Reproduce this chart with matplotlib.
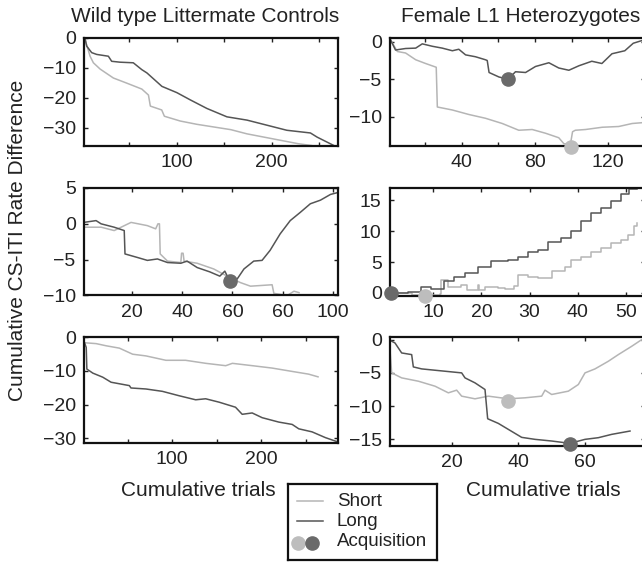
import matplotlib
matplotlib.use("Agg")
import matplotlib.pyplot as plt

plt.rcParams['font.family'] = ['Liberation Sans', 'DejaVu Sans']

# colours of the two trial types
light = '#b5b5b5'
dark = '#555555'
light_dot = '#bdbdbd'
dark_dot = '#6a6a6a'

# ---- Wild type, row 1 ----
wt_a_short_x = [3, 8.4, 11.9, 19, 33, 47, 63, 70, 72, 84, 86.8, 103.5, 121, 139, 157, 174, 192, 210, 228, 242]
wt_a_short_y = [-0.4, -6.1, -8.3, -10.4, -13.4, -15.1, -17.1, -19.1, -22.8, -24.1, -26.2, -27.8, -28.9, -29.8, -30.7, -32.1, -33.2, -34.3, -35.4, -36]
wt_a_long_x = [3, 4.8, 10.1, 15.4, 27.7, 31.2, 40, 54, 63, 68.4, 84.2, 100, 114, 131.7, 152.8, 174, 195, 216, 240.9, 248, 265.6]
wt_a_long_y = [0, -2.7, -4.9, -5.5, -6.1, -7.8, -8.1, -8.3, -10.6, -11.7, -16.2, -18.3, -20.7, -23.6, -26.4, -27.5, -29.2, -30.9, -31.8, -33.2, -36]

# ---- Female L1 heterozygotes, row 1 ----
het_a_short_x = [1.3, 5, 9.5, 15, 20.4, 26.2, 26.8, 35, 44, 53, 62.2, 71.2, 78.5, 85.8, 93, 95.8, 99.4, 100.5, 102, 107.6, 116.7, 125.7, 133, 138]
het_a_short_y = [0.25, -1.3, -1.5, -2.4, -2.9, -3.4, -8.7, -9.1, -9.7, -10.2, -10.9, -11.8, -11.7, -12.2, -12.8, -13.6, -13.6, -12.0, -11.8, -11.7, -11.4, -11.3, -10.9, -10.8]
het_a_long_x = [1.3, 4, 9.5, 15, 18.6, 24, 29.5, 35, 38.5, 42.2, 47.6, 53, 54, 55, 60.4, 65.4, 69.4, 74.9, 80.3, 87.6, 93, 98.5, 104, 111, 116.5, 122, 129, 133.6, 138.2]
het_a_long_y = [0.25, -1.1, -0.9, -0.85, -0.28, -0.6, -0.85, -1.2, -1.0, -1.75, -2.0, -2.4, -2.5, -4.1, -4.7, -5.0, -4.0, -4.1, -3.3, -2.8, -3.5, -3.8, -3.2, -2.6, -2.9, -1.6, -1.2, -0.2, 0.15]
het_a_acq_short = (99.4, -14.0)
het_a_acq_long = (65.4, -5.0)

# ---- Wild type, row 2 ----
wt_b_short_x = [1.3, 7.8, 13, 19.7, 26.2, 29.5, 30.4, 31.0, 31.3, 34.2, 39.5, 39.8, 40.4, 40.8, 46, 52.6, 57.9, 63.2, 67.2, 75.8, 76.5, 81.8, 84.5, 86.5]
wt_b_short_y = [-0.47, -0.47, -0.94, 0.2, -0.25, -0.7, 0.0, 0.0, -4.2, -5.2, -5.4, -4.1, -4.1, -5.2, -5.5, -6.3, -7.3, -8.2, -8.7, -8.5, -9.7, -10, -9.4, -9.6]
wt_b_long_x = [1.3, 5.8, 7.8, 13, 17, 17.3, 22.3, 26.2, 30.2, 34.2, 39.5, 42, 46, 51, 55, 57, 58.9, 61.9, 64.6, 68.5, 71.8, 75, 79, 83, 87, 91, 95, 99, 102.3]
wt_b_long_y = [0.22, 0.45, 0.0, -0.47, -0.94, -4.2, -4.7, -5.1, -4.9, -5.4, -5.5, -5.2, -6.1, -6.7, -7.3, -6.6, -7.95, -7.7, -6.3, -5.2, -5.1, -3.7, -1.4, 0.45, 1.6, 2.8, 3.3, 4.1, 4.4]
wt_b_acq_long = (58.9, -7.95)

# ---- Female L1 heterozygotes, row 2 ----
het_b_short_x = [1, 5.5, 8.3, 11.3, 11.6, 13, 15.8, 17.1, 19.3, 19.5, 20.7, 23.4, 24.8, 26.8, 27.6, 29.7, 31.7, 33.8, 34.6, 37.3, 38.6, 40.7, 42.8, 44.9, 46.9, 49, 50.4, 51.7, 52.4]
het_b_short_y = [0, -0.33, -0.4, -0.16, 2.1, 1.0, 1.3, 0.49, 1.3, 0.5, 1.0, 0.76, 0.6, 1.14, 2.9, 2.6, 2.4, 2.4, 3.6, 4.2, 5.4, 5.9, 6.7, 7.3, 8.1, 8.6, 9.4, 10.8, 11.3]
het_b_long_x = [1.3, 4.8, 7.5, 9.6, 11.3, 12.3, 14.4, 16.5, 19.3, 22, 25.5, 27.6, 29.7, 31.7, 33.8, 36.6, 38.6, 40.7, 42.8, 44.9, 46.9, 49, 50.7, 52.4]
het_b_long_y = [0.0, 0.22, 0.9, 0.7, 0.7, 1.85, 2.55, 3.3, 4.2, 5.1, 5.4, 5.9, 6.7, 7.0, 8.3, 8.9, 9.97, 11.6, 12.97, 13.8, 14.9, 15.96, 16.8, 16.9]
het_b_acq_short = (8.3, -0.45)
het_b_acq_long = (1.3, 0.0)

# ---- Wild type, row 3 ----
wt_c_short_x = [1.6, 14.6, 25.8, 40.7, 55.6, 70.5, 92.9, 115, 137.7, 160, 167.5, 190, 212, 234.6, 253, 263.6]
wt_c_short_y = [-1.7, -1.96, -2.6, -3.3, -5.1, -5.6, -6.9, -6.9, -7.8, -8.5, -7.8, -8.5, -9.2, -10.2, -11, -11.8]
wt_c_long_x = [1.6, 3.5, 4.2, 10.9, 22, 31.4, 51.9, 53.7, 70.5, 89, 107.7, 126.3, 137.5, 152.5, 171, 178.5, 189.7, 200.9, 219.5, 234.6, 242, 256.9, 271.8, 286]
wt_c_long_y = [-1.7, -3.1, -9.5, -10.7, -11.9, -13.4, -14.4, -15.1, -15.4, -16.1, -17.4, -18.6, -18.3, -19.3, -20.8, -22.9, -22.5, -23.9, -25.2, -25.9, -27.2, -28.1, -29.8, -31.1]

# ---- Female L1 heterozygotes, row 3 ----
het_c_short_x = [1.5, 2, 5, 10, 15, 19, 21.5, 23, 27, 31, 37, 42, 47, 48, 50, 55, 58, 60, 63, 67, 70, 74, 77]
het_c_short_y = [-1.5, -5, -5.75, -6.25, -7, -8, -7.6, -8.5, -8.9, -8.5, -8.9, -8.75, -8.5, -7.6, -8.25, -7.75, -6.75, -5, -4.4, -3.25, -2.25, -1, 0]
het_c_long_x = [1.5, 3, 5, 8, 8.5, 11, 15, 18, 23, 24, 27, 30, 30.8, 34, 37, 41, 45, 50, 55.5, 60, 64, 68, 73.5]
het_c_long_y = [-0.1, -0.5, -2, -2.25, -4.1, -4.4, -4.6, -4.75, -5, -5.75, -6.5, -7.5, -11.9, -12.6, -13.5, -14.7, -15, -15.25, -15.6, -15, -14.75, -14.25, -13.75]
het_c_acq_short = (37, -9.25)
het_c_acq_long = (55.5, -15.75)

W, H = 642, 562
fig = plt.figure(figsize=(W / 100, H / 100), dpi=100)


def px_axes(l, t, r, b):
    return fig.add_axes([l / W, 1 - b / H, (r - l) / W, (b - t) / H])


def style(ax, xlim, ylim, xticks, xlabels, yticks):
    ax.set_xlim(*xlim)
    ax.set_ylim(*ylim)
    ax.set_xticks(xticks)
    ax.set_xticklabels(xlabels)
    ax.set_yticks(yticks)
    ax.tick_params(direction='in', length=3, width=1, top=True, right=True,
                   labelsize=14, colors='#222222')
    ax.tick_params(axis='x', pad=6)
    ax.tick_params(axis='y', pad=6)
    for s in ax.spines.values():
        s.set_linewidth(1.6)
        s.set_color('#111111')


def curves(ax, sx, sy, lx, ly, steps=False):
    ds = 'steps-post' if steps else 'default'
    ax.plot(sx, sy, color=light, lw=1.1, drawstyle=ds)
    ax.plot(lx, ly, color=dark, lw=1.1, drawstyle=ds)


def dot(ax, pt, c):
    ax.plot(pt[0], pt[1], 'o', ms=9.5, color=c, mec=c, clip_on=False, zorder=5)


# row 1
ax = px_axes(84, 38, 338, 145.5)
curves(ax, wt_a_short_x, wt_a_short_y, wt_a_long_x, wt_a_long_y)
style(ax, (2, 270), (-36, 0), [50, 100, 150, 200, 250], ['', '100', '', '200', ''], [0, -10, -20, -30])

ax = px_axes(390, 38, 645, 146)
curves(ax, het_a_short_x, het_a_short_y, het_a_long_x, het_a_long_y)
dot(ax, het_a_acq_long, dark_dot)
dot(ax, het_a_acq_short, light_dot)
style(ax, (1, 140), (-13.9, 0.5), [20, 40, 60, 80, 100, 120], ['', '40', '', '80', '', '120'], [0, -5, -10])

# row 2
ax = px_axes(84, 188, 338, 295.5)
curves(ax, wt_b_short_x, wt_b_short_y, wt_b_long_x, wt_b_long_y)
dot(ax, wt_b_acq_long, dark_dot)
style(ax, (1, 102), (-10, 5), [20, 40, 60, 80, 100], ['20', '40', '60', '60', '100'], [5, 0, -5, -10])

ax = px_axes(390, 188, 645, 296)
curves(ax, het_b_short_x, het_b_short_y, het_b_long_x, het_b_long_y, steps=True)
dot(ax, het_b_acq_long, dark_dot)
dot(ax, het_b_acq_short, light_dot)
style(ax, (1, 54), (-0.5, 17), [10, 20, 30, 40, 50], ['10', '20', '30', '40', '50'], [0, 5, 10, 15])

# row 3
ax = px_axes(84, 337, 338, 443)
curves(ax, wt_c_short_x, wt_c_short_y, wt_c_long_x, wt_c_long_y)
style(ax, (1, 286), (-31.4, 0), [50, 100, 150, 200, 250], ['', '100', '', '200', ''], [0, -10, -20, -30])

ax = px_axes(390, 337, 645, 446)
curves(ax, het_c_short_x, het_c_short_y, het_c_long_x, het_c_long_y)
dot(ax, het_c_acq_short, light_dot)
dot(ax, het_c_acq_long, dark_dot)
style(ax, (1.5, 78), (-16, 0.4), [20, 40, 60], ['20', '40', '60'], [0, -5, -10, -15])

# titles and labels
txt = dict(fontsize=15, color='#222222', ha='center', va='center')
fig.text(205 / W, 1 - 17 / H, 'Wild type Littermate Controls', **txt)
fig.text(521 / W, 1 - 17 / H, 'Female L1 Heterozygotes', **txt)
fig.text(18 / W, 1 - 240 / H, 'Cumulative CS-ITI Rate Difference', rotation=90, **txt)
fig.text(198 / W, 1 - 491 / H, 'Cumulative trials', **txt)
fig.text(543 / W, 1 - 491 / H, 'Cumulative trials', **txt)

# legend box drawn in pixel units
lg = px_axes(288, 484, 437, 560)
lg.set_xlim(288, 437)
lg.set_ylim(560, 484)
lg.set_xticks([])
lg.set_yticks([])
for s in lg.spines.values():
    s.set_linewidth(1.6)
    s.set_color('#111111')
lg.plot([297, 323], [501, 501], color=light, lw=1.1)
lg.plot([297, 323], [521, 521], color=dark, lw=1.1)
lg.plot(298, 543, 'o', ms=9.5, color=light_dot)
lg.plot(312, 543, 'o', ms=9.5, color=dark_dot)
for label, yy in [('Short', 501), ('Long', 521), ('Acquisition', 542)]:
    lg.text(337, yy, label, fontsize=13.5, color='#222222', ha='left', va='center')

fig.savefig('out.png', dpi=100)
